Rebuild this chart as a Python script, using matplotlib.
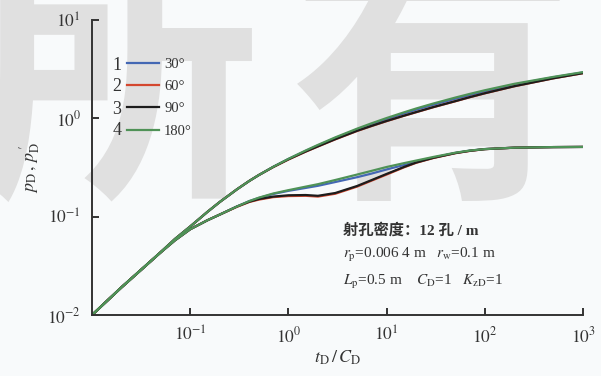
import numpy as np
import matplotlib.pyplot as plt
from matplotlib.lines import Line2D

plt.rcParams['font.family'] = ['Liberation Serif', 'Noto Sans CJK SC']
plt.rcParams['mathtext.fontset'] = 'stix'

# tD/CD
t = [0.01, 0.02, 0.05, 0.07, 0.1, 0.15, 0.2, 0.3, 0.4, 0.5, 0.7, 1, 1.5, 2, 3, 5, 7,
     10, 15, 20, 30, 50, 70, 100, 200, 500, 1000]

# pressure pD
p_30 = [0.0100, 0.0192, 0.0435, 0.0593, 0.0794, 0.112, 0.141, 0.19, 0.231, 0.265,
        0.321, 0.386, 0.467, 0.53, 0.631, 0.771, 0.871, 0.984, 1.12, 1.224, 1.376,
        1.58, 1.724, 1.885, 2.205, 2.614, 2.93]
p_60 = [0.0100, 0.0192, 0.0435, 0.0593, 0.0794, 0.112, 0.141, 0.19, 0.231, 0.265,
        0.319, 0.381, 0.458, 0.517, 0.611, 0.743, 0.833, 0.936, 1.06, 1.153, 1.298,
        1.49, 1.636, 1.795, 2.118, 2.551, 2.878]
p_90 = [0.0100, 0.0192, 0.0435, 0.0593, 0.0794, 0.112, 0.141, 0.19, 0.231, 0.265,
        0.320, 0.383, 0.460, 0.519, 0.614, 0.747, 0.837, 0.940, 1.064, 1.158, 1.303,
        1.495, 1.641, 1.80, 2.123, 2.556, 2.882]
p_180 = [0.0100, 0.0192, 0.0435, 0.0593, 0.0794, 0.112, 0.141, 0.19, 0.231, 0.265,
         0.321, 0.387, 0.471, 0.537, 0.64, 0.785, 0.889, 1.007, 1.15, 1.259, 1.416,
         1.625, 1.77, 1.93, 2.244, 2.64, 2.95]

# derivative pD'
d_30 = [0.0100, 0.0191, 0.0433, 0.0575, 0.0745, 0.092, 0.105, 0.127, 0.144, 0.155,
        0.170, 0.183, 0.196, 0.206, 0.225, 0.252, 0.274, 0.302, 0.335, 0.36, 0.398,
        0.445, 0.469, 0.487, 0.503, 0.51, 0.512]
d_60 = [0.0100, 0.0191, 0.0433, 0.0575, 0.0745, 0.092, 0.105, 0.126, 0.141, 0.149,
        0.158, 0.162, 0.163, 0.160, 0.171, 0.202, 0.232, 0.268, 0.317, 0.353, 0.395,
        0.442, 0.466, 0.486, 0.503, 0.51, 0.512]
d_90 = [0.0100, 0.0191, 0.0433, 0.0575, 0.0745, 0.092, 0.105, 0.127, 0.142, 0.151,
        0.160, 0.165, 0.166, 0.163, 0.174, 0.205, 0.235, 0.272, 0.320, 0.355, 0.397,
        0.443, 0.467, 0.486, 0.503, 0.51, 0.512]
d_180 = [0.0100, 0.0191, 0.0433, 0.0575, 0.0745, 0.092, 0.105, 0.127, 0.144, 0.156,
         0.172, 0.186, 0.202, 0.214, 0.236, 0.268, 0.292, 0.32, 0.35, 0.372, 0.405,
         0.447, 0.47, 0.487, 0.503, 0.51, 0.512]

angles = ['30°', '60°', '90°', '180°']
colors = ['#4468b4', '#d4472f', '#1c1c1c', '#4f9257']
p_all = [p_30, p_60, p_90, p_180]
d_all = [d_30, d_60, d_90, d_180]

fig = plt.figure(figsize=(6.01, 3.76), dpi=100)
fig.patch.set_facecolor('#f8fafb')

# watermark
wm = dict(fontsize=205, color='#e0e0e0', family=['Noto Sans CJK SC'], fontweight='bold',
          ha='center', va='baseline', zorder=-5)
fig.text(118 / 601, 1 - 176 / 376, '所', **wm)
fig.text(432 / 601, 1 - 176 / 376, '有', **wm)

ax = fig.add_axes([92 / 601, 1 - 315 / 376, 491 / 601, 295 / 376])
ax.set_facecolor('none')

for p, d, c in zip(p_all, d_all, colors):
    ax.plot(t, p, color=c, lw=1.6, solid_capstyle='round')
    ax.plot(t, d, color=c, lw=1.6, solid_capstyle='round')

ax.set_xscale('log')
ax.set_yscale('log')
ax.set_xlim(0.01, 1000)
ax.set_ylim(0.01, 10)
ax.set_xticks([0.1, 1, 10, 100, 1000])
ax.set_xticklabels([r'$10^{-1}$', r'$10^{0}$', r'$10^{1}$', r'$10^{2}$', r'$10^{3}$'])
ax.set_yticks([0.01, 0.1, 1, 10])
ax.set_yticklabels([r'$10^{-2}$', r'$10^{-1}$', r'$10^{0}$', r'$10^{1}$'])
ax.minorticks_off()

for s in ['top', 'right']:
    ax.spines[s].set_visible(False)
for s in ['left', 'bottom']:
    ax.spines[s].set_color('#333333')
    ax.spines[s].set_linewidth(1.4)
ax.tick_params(direction='in', length=5, width=1.4, color='#333333',
               labelsize=12.5, labelcolor='#333333')
ax.tick_params(axis='x', pad=8)
ax.tick_params(axis='y', pad=8)

ax.set_xlabel(r'$t_\mathrm{D}\,/\,C_\mathrm{D}$', fontsize=13, color='#333333', labelpad=2)
ax.set_ylabel(r'$p_\mathrm{D}\,,\,p_\mathrm{D}^{\,\prime}$', fontsize=13, color='#333333',
              labelpad=4)

handles = [Line2D([], [], color=c, lw=1.6) for c in colors]
leg = ax.legend(handles, angles, loc='upper left', bbox_to_anchor=(0.071, 0.872),
                frameon=False, fontsize=10.5, handlelength=2.2, handletextpad=0.35,
                labelspacing=0.62, borderpad=0, borderaxespad=0)
for txt in leg.get_texts():
    txt.set_color('#333333')
for i, yy in enumerate([0.847, 0.776, 0.698, 0.627]):
    ax.text(0.051, yy, str(i + 1), transform=ax.transAxes, ha='center', va='center',
            fontsize=13, color='#333333')

info = dict(transform=ax.transAxes, fontsize=11, color='#333333', ha='left', va='center')
ax.text(0.512, 0.288, '射孔密度：12 孔 / m', fontweight='bold', **info)
ax.text(0.512, 0.203, r'$r_\mathrm{p}$=0.006 4 m   $r_\mathrm{w}$=0.1 m', **info)
ax.text(0.512, 0.112, r'$L_\mathrm{p}$=0.5 m    $C_\mathrm{D}$=1   $K_\mathrm{zD}$=1', **info)

fig.savefig('out.png', dpi=100, facecolor=fig.get_facecolor())
